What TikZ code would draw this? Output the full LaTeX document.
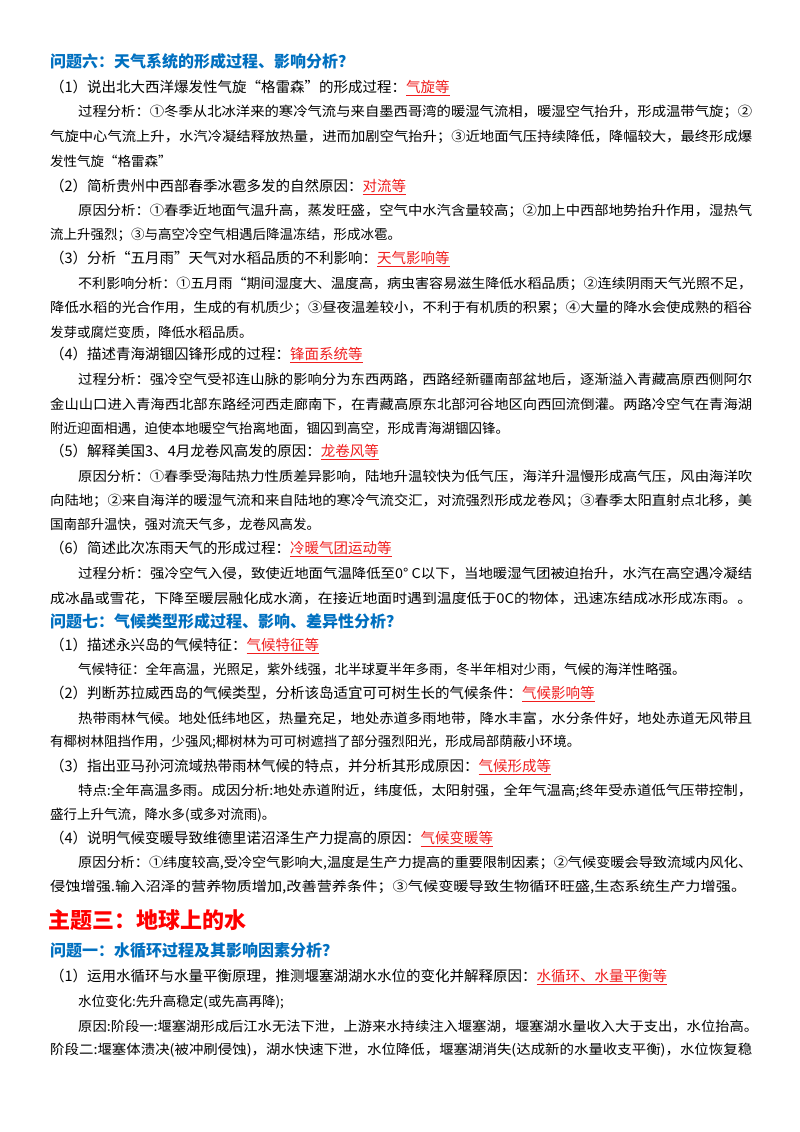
\documentclass[tikz,border=0pt]{standalone}
\usepackage{fontspec}
\usepackage{graphicx}
\setmainfont{Noto Sans CJK SC}
\definecolor{hblue}{RGB}{0,112,192}
\definecolor{lred}{RGB}{240,30,30}
\newcommand\RL[1]{\textcolor{lred}{\underline{#1}}}
\newcommand\LL[3]{\node[anchor=west,inner sep=0pt] at (#1,#2) {#3};}
\newcommand\FL[3]{\node[anchor=west,inner sep=0pt] at (#1,#2) {\resizebox{\dimexpr 752pt-#1pt\relax}{\height}{#3}};}
\newcommand\QL[2]{\node[anchor=west,inner sep=0pt,font=\fontsize{14.5}{17}\selectfont] at (50,#1) {#2};}
\newcommand\HL[2]{\node[anchor=west,inner sep=0pt,font=\fontsize{16}{19}\bfseries\selectfont,text=hblue] at (50,#1) {#2};}
\begin{document}
\begin{tikzpicture}[x=1pt,y=-1pt,font=\fontsize{13.5}{16}\selectfont]
\fill[white] (0,0) rectangle (800,1132);
\useasboundingbox (0,0) rectangle (800,1132);
\HL{61}{问题六：天气系统的形成过程、影响分析？}
\QL{88}{（1）说出北大西洋爆发性气旋“格雷森”的形成过程：\RL{气旋等}}
\FL{78}{112}{过程分析：①冬季从北冰洋来的寒冷气流与来自墨西哥湾的暖湿气流相，暖湿空气抬升，形成温带气旋；②}
\FL{50}{137}{气旋中心气流上升，水汽冷凝结释放热量，进而加剧空气抬升；③近地面气压持续降低，降幅较大，最终形成爆}
\LL{50}{161}{发性气旋“格雷森”}
\QL{187}{（2）简析贵州中西部春季冰雹多发的自然原因：\RL{对流等}}
\FL{78}{211}{原因分析：①春季近地面气温升高，蒸发旺盛，空气中水汽含量较高；②加上中西部地势抬升作用，湿热气}
\LL{50}{235}{流上升强烈；③与高空冷空气相遇后降温冻结，形成冰雹。}
\QL{259}{（3）分析“五月雨”天气对水稻品质的不利影响：\RL{天气影响等}}
\FL{78}{284}{不利影响分析：①五月雨“期间湿度大、温度高，病虫害容易滋生降低水稻品质；②连续阴雨天气光照不足，}
\FL{50}{308}{降低水稻的光合作用，生成的有机质少；③昼夜温差较小，不利于有机质的积累；④大量的降水会使成熟的稻谷}
\LL{50}{332}{发芽或腐烂变质，降低水稻品质。}
\QL{355}{（4）描述青海湖锢囚锋形成的过程：\RL{锋面系统等}}
\FL{78}{380}{过程分析：强冷空气受祁连山脉的影响分为东西两路，西路经新疆南部盆地后，逐渐溢入青藏高原西侧阿尔}
\FL{50}{404}{金山山口进入青海西北部东路经河西走廊南下，在青藏高原东北部河谷地区向西回流倒灌。两路冷空气在青海湖}
\LL{50}{428}{附近迎面相遇，迫使本地暖空气抬离地面，锢囚到高空，形成青海湖锢囚锋。}
\QL{452}{（5）解释美国3、4月龙卷风高发的原因：\RL{龙卷风等}}
\FL{78}{477}{原因分析：①春季受海陆热力性质差异影响，陆地升温较快为低气压，海洋升温慢形成高气压，风由海洋吹}
\FL{50}{501}{向陆地；②来自海洋的暖湿气流和来自陆地的寒冷气流交汇，对流强烈形成龙卷风；③春季太阳直射点北移，美}
\LL{50}{525}{国南部升温快，强对流天气多，龙卷风高发。}
\QL{549}{（6）简述此次冻雨天气的形成过程：\RL{冷暖气团运动等}}
\FL{78}{574}{过程分析：强冷空气入侵，致使近地面气温降低至0° C以下，当地暖湿气团被迫抬升，水汽在高空遇冷凝结}
\FL{50}{598}{成冰晶或雪花，下降至暖层融化成水滴，在接近地面时遇到温度低于0C的物体，迅速冻结成冰形成冻雨。。}
\HL{621}{问题七：气候类型形成过程、影响、差异性分析？}
\QL{646}{（1）描述永兴岛的气候特征：\RL{气候特征等}}
\LL{78}{669}{气候特征：全年高温，光照足，紫外线强，北半球夏半年多雨，冬半年相对少雨，气候的海洋性略强。}
\QL{694}{（2）判断苏拉威西岛的气候类型，分析该岛适宜可可树生长的气候条件：\RL{气候影响等}}
\FL{78}{718}{热带雨林气候。地处低纬地区，热量充足，地处赤道多雨地带，降水丰富，水分条件好，地处赤道无风带且}
\LL{50}{742}{有椰树林阻挡作用，少强风;椰树林为可可树遮挡了部分强烈阳光，形成局部荫蔽小环境。}
\QL{767}{（3）指出亚马孙河流域热带雨林气候的特点，并分析其形成原因：\RL{气候形成等}}
\FL{78}{791}{特点:全年高温多雨。成因分析:地处赤道附近，纬度低，太阳射强，全年气温高;终年受赤道低气压带控制，}
\LL{50}{815}{盛行上升气流，降水多(或多对流雨)。}
\QL{839}{（4）说明气候变暖导致维德里诺沼泽生产力提高的原因：\RL{气候变暖等}}
\FL{78}{863}{原因分析：①纬度较高,受冷空气影响大,温度是生产力提高的重要限制因素；②气候变暖会导致流域内风化、}
\node[anchor=west,inner sep=0pt] at (50,887) {\resizebox{696pt}{\height}{侵蚀增强.输入沼泽的营养物质增加,改善营养条件；③气候变暖导致生物循环旺盛,生态系统生产力增强。}};
\node[anchor=west,inner sep=0pt,font=\fontsize{22}{26}\bfseries\selectfont,text=red] at (48,920) {主题三：地球上的水};
\HL{951}{问题一：水循环过程及其影响因素分析？}
\QL{977}{（1）运用水循环与水量平衡原理，推测堰塞湖湖水水位的变化并解释原因：\RL{水循环、水量平衡等}}
\LL{78}{1002}{水位变化:先升高稳定(或先高再降);}
\node[anchor=west,inner sep=0pt] at (78,1026) {\resizebox{680pt}{\height}{原因:阶段一:堰塞湖形成后江水无法下泄，上游来水持续注入堰塞湖，堰塞湖水量收入大于支出，水位抬高。}};
\FL{50}{1050}{阶段二:堰塞体溃决(被冲刷侵蚀)，湖水快速下泄，水位降低，堰塞湖消失(达成新的水量收支平衡)，水位恢复稳}
\end{tikzpicture}
\end{document}
